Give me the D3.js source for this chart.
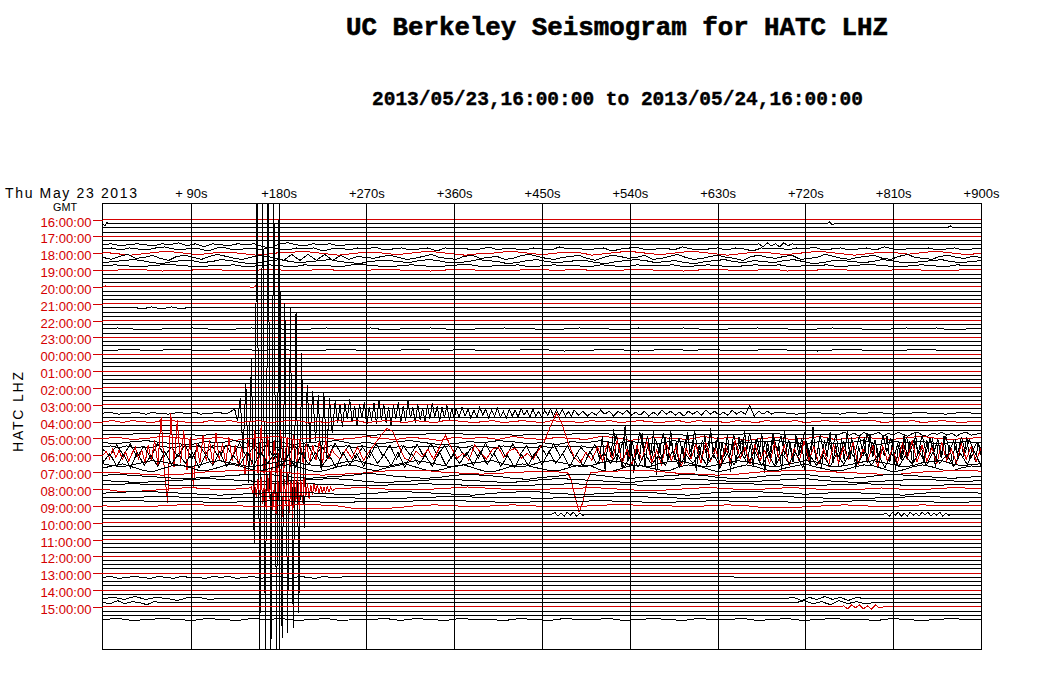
<!DOCTYPE html>
<html><head><meta charset="utf-8">
<script src="https://cdn.jsdelivr.net/npm/d3@7"></script>
<style>
body{margin:0;background:#fff;}
svg{display:block;}
text{font-family:"Liberation Sans",Arial,sans-serif;}
</style></head>
<body><svg id="c" width="1041" height="677"></svg>
<script>
// ---------- labels ----------
const titleText = "UC Berkeley Seismogram for HATC LHZ";
const subtitleText = "2013/05/23,16:00:00 to 2013/05/24,16:00:00";
const dateText = "Thu May 23 2013";
const zoneText = "GMT";
const stationText = "HATC  LHZ";
const hourLabels = ["16:00:00","17:00:00","18:00:00","19:00:00","20:00:00","21:00:00","22:00:00","23:00:00","00:00:00","01:00:00","02:00:00","03:00:00","04:00:00","05:00:00","06:00:00","07:00:00","08:00:00","09:00:00","10:00:00","11:00:00","12:00:00","13:00:00","14:00:00","15:00:00"];
const tickSeconds = [90,180,270,360,450,540,630,720,810,900];
const tickLabels = ["+ 90s","+180s","+270s","+360s","+450s","+540s","+630s","+720s","+810s","+900s"];
const traceCount = 96;

// ---------- trace data: segments [startSec, endSec, amplitudes (px, up +)] ----------
const tr001 = [[0,6,[0,-2,1,0]],[742,750,[0,2,-1,0]]];
const tr002 = [[865,872,[0,2,0]]];
const tr006 = [[0,250,[0,1,-1,0,1,0,-1,1,0,2,-1,1,-2,1,0,-1,1,0,1,-2,-3,1,2,0,-1,1,0,1,-1,0]],[668,715,[0,1,-2,2,-1,1,-2,2,-1,1,0,0]]];
const tr007 = [[0,900,[0,1,-1,1,0,-1,1,2,0,-1,1,0,-2,1,1,-1,0,1,-1,2,0,-1,1,0,1,-2,0,1,-1,1,0,2,-1,0,1,-1,0,1,-2,1,0,1,-1,0,2,-1,1,0,-1,1,0,-1,2,0,1,-1,0,1,-2,0,1,1,-1,0,1,-1,2,0,-1,0,1,-1,1,0,-2,1,0,1,-1,1,0,2,-1,0,1,-1,0,1,-1,2,0,-1,1,0,1,-1,0,1,-1,0,1]]];
const tr008 = [[0,900,[1,0,-1,-2,-1,0,1,2,1,0,-1,-1,0,1,1,0,-1,-2,-1,0,1,1,2,1,0,-1,-2,-1,0,1,1,0,-1,-1,0,1,2,1,0,-1,-2,-1,0,0,1,2,1,0,-1,-1,0,1,1,0,-2,-1,0,1,2,1,0,-1,-1,0,1,2,1,0,-1,-2,-1,0,1,1,0,-1,-1,0,1,2,1,0,-1,-2,-1,0,1,1,0,-1,0,1,2,1,0,-1,-1,0]]];
const tr009 = [[0,900,[0,-2,1,3,-1,0,2,-1,-3,1,2,0,-2,1,3,1,-1,-2,0,2,1,-1,-3,3,-3,3,-3,3,-3,2,-2,1,0,-1,1,2,0,-2,-1,1,3,0,-1,-2,1,2,-1,0,1,-2,-1,2,3,1,-1,-2,0,1,2,-1,-3,0,2,1,-1,0,2,-2,-1,1,3,0,-2,-1,1,2,0,-1,-3,1,2,0,-1,1,2,-2,-1,0,3,1,-1,-2,0,1,2,-1,-2,1,3,0,-1,-2,1,2,0,-1,1,0]]];
const tr010 = [[0,900,[-1,0,1,2,1,-1,-2,0,1,1,-1,0,2,1,-1,-2,-1,1,2,0,-1,0,1,2,0,-1,-2,0,1,1,0,-1,1,2,1,-1,-1,0,2,1,0,-2,-1,1,2,0,-1,0,1,1,-1,-2,0,1,2,1,-1,0,1,-1,-2,0,1,2,0,-1,1,0,-1,1,2,0,-2,-1,1,1,0,-1,0,2,1,-1,-1,0,1,2,0,-1,0,1]]];
const tr011 = [[0,900,[0,1,0,-1,0,1,1,0,-1,0,0,1,-1,0,1,0,-1,1,0,0,-1,1,1,0,-1,0,1,0,-1,0,1,1,-1,0,0,1,-1,0,1,0,0,-1,1,0,-1,1,0,0,1,-1,0,1,0,-1,0,1,0,1,-1,0,0,1,-1,0,1,1,0,-1,0,1,0,-1,1,0,0]]];
const tr012 = [[0,900,[0,0,1,0,-1,0,0,1,0,0,-1,1,0,0,0,1,-1,0,0,1,0,0,-1,0,1,0,0,-1,0,1,0,0,1,-1,0,0,1,0,0,-1,0,1,0,0,0,1,-1,0,0,1,0,-1,0,0,1,0,0,-1,1,0]]];
const tr016 = [[0,6,[0,1,0]],[150,160,[0,-1,1,0]]];
const tr021 = [[35,85,[0,-1,0,1,0,-1,0,1,0,-1,0]]];
const tr026 = [[0,900,[0,1,0,-1,0,0,1,0,-1,0,1,0,0,-1,0,1,0,0,1,-1,0,0,1,0,-1,0,0,1,0,0,-1,0,1,0,0,-1,1,0,0,1,0,-1,0,0,1,0,0,-1,0,1,0,0,-1,0,1,0,1,-1,0,0]]];
const tr031 = [[0,900,[0,0,1,-1,0,1,0,0,-1,1,0,0,1,-1,0,0,1,0,-1,0,0,1,0,-1,1,0,0,-1,0,1,0,-1,0,0,1,0,-1,0,1,0,0,1,-1,0,0,1,0,0,-1,0,1,0,-1,0,0,1,0,0,-1,0]]];
const tr046 = [
  [0,128,[0,1,0,-1,0,0,1,0,-1,1,0,0,-1,0,1,0,0,1,-1,0,0,1,0,0]],
  [135,235,[4,-8,15,-40,30,-70,55,-130,240,-240,240,-240,240,-240,240,-240,240,-225,110,-220,105,-215,100,-200,60,-115,28,-30,22,-28,18,-57,20,-45,15,-20]],
  [238,360,[12,-10,8,-14,10,-6,14,-9,7,-12,9,-5,11,-13,6,-8,10,-11,13,-7,9,-10,6,-12,8,-6,11,-9,7,-8,12,-5,6,-10,9,-7,5,-9,8,-6,10,-4,7,-8,6,-5,8,-7,5,-6]],
  [362,480,[5,-4,6,-3,4,-5,3,-4,6,-2,4,-5,3,-3,5,-4,2,-5,4,-3,3,-4,5,-2,3,-4,4,-3,2,-4,3,-2,4,-3,3,-2,4,-3,2,-3]],
  [483,690,[3,-2,2,-3,1,-2,3,-1,2,-3,2,-1,3,-2,1,-2,2,-3,1,-2,3,-1,2,-2,1,-3,2,-1,2,-2,3,-1,2,-2,1,-2,3,-1,2,-1,8,-3,2,-1,2,-1,1]],
  [693,900,[1,0,-1,0,1,0,0,-1,1,0,0,1,0,-1,0,0,1,0,0,-1,0,1,0,0]]
];
const tr048 = [[0,900,[0,1,-1,1,0,-1,1,1,0,-1,-1,1,0,1,-1,0,1,-1,0,1,1,-1,0,-1,1,0,1,-1,0,1,0,-1,1,0,-1,1,1,0,-1,0,1,-1,0,1,0,-1,1,0,0,-1,1,0,1,-1,0,1,0,-1,0,1,-1,1,0,0,-1,1,0,-1,1,0,0,1,-1,0,1,0,-1,0,1,1,-1,0,0,1,-1,0,1,0,-1,0,0]]];
const tr051 = [[0,750,[0,0,1,0,-1,0,0,1,0,0,0,-1,0,0,1,0,0,-1,0,0,1,0,0,0,-1,0,0,1,0,0,0]],[755,900,[0,2,-1,1,-2,2,-1,0,2,-2,1,-1,2,0,-2,1,2,-1,-2,1,0,2,-1,1,-2,1,2,-1,0,1]]];
const tr052 = [[0,900,[0,1,-1,0,2,1,-1,0,1,-2,0,1,2,-1,0,1,-1,0,2,0,-1,1,0,-2,1,0,1,-1,2,0,-1,1,0,-1,2,1,-2,0,1,0,-1,2,0,1,-2,0,1,-1,0,2,-1,0,1,0,-1,1,2,0,-1,0,1]]];
const tr053 = [[0,900,[0,-1,1,2,0,-1,-2,1,0,2,-1,0,1,-2,0,1,2,-1,0,-1,1,2,0,-2,-1,1,0,2,1,-1,0,-2,1,0,2,-1,1,0,-1,2,0,-1,1,-2,0,1,2,0,-1,1,-1,0,2,-2,1,0,1,-1,0,1,0]]];
const tr054 = [
  [0,515,[0,1,-1,1,-1,0,-1,1,0,-1,1,0,1,-1,1,0,1,0,-1,1,-1,1,-1,1,-1,0,0,1,-1,1,0,1,-1,1,-1,0,0,-1,1,-1,1,0,1,-1,1,0,-1,1,0,0,-1,1,0,-1,0,-1,1,-1,1,0,0,1,-1,0,0]],
  [518,900,[3,-8,12,-5,10,-14,6,-9,15,-4,11,-12,8,-6,14,-10,5,-13,9,-7,12,-5,16,-11,7,-8,13,-6,10,-15,4,-9,12,-7,8,-11,14,-5,9,-12,6,-10,13,-4,11,-8,7,-14,10,-6,15,-9,5,-11,12,-7,9,-5,13,-10,6,-12,8,-4,11,-9,14,-6,7,-10,12,-5,9,-8,6,-11,10,-4,8,-7,12,-6,9,-5,7,-9,11,-4,6,-8,10,-5,7,-3,5,-2]]
];
const tr055 = [
  [0,504,[2,-5,6,-4,7,-6,5,-7,8,-5,4,-6,7,-8,6,-3,5,-7,6,-5,8,-6,4,-5,7,-8,5,-6,6,-4,7,-7,5,-6,8,-5,6,-7,4,-6,7,-5,6,-8,5,-4,7,-6,8,-5,6,-7,5,-6,4,-7,8,-5,6,-6,7,-4,5,-8,6,-5,7,-6,5,-7,4,-5,6]],
  [506,900,[4,-8,15,-20,10,-6,22,-12,8,-18,25,-5,12,-22,6,-10,18,-15,9,-4,20,-24,7,-11,14,-9,21,-6,10,-17,5,-13,19,-8,12,-20,6,-9,16,-14,23,-7,11,-18,8,-5,17,-21,9,-12,14,-6,20,-10,7,-16,12,-4,18,-22,10,-8,15,-13,6,-19,21,-7,9,-11,16,-5,13,-20,8,-14,24,-9,6,-17,11,-6,19,-12,7,-15,13,-10,20,-8,9,-18,5,-7,14,-12,17,-6,10,-16,8,-5,15,-11,12,-19,6,-9,16,-7,10,-14,18,-8,6,-12,11,-5,13,-17,9,-7,15,-10,6,-13,12,-8,10,-6,14,-9,5,-11,8,-4]]
];
const tr056 = [
  [0,235,[0,4,-3,6,-2,5,-4,3,-6,2,8,-3,5,-8,10,-5,15,-10,38,-15,-48,42,-12,35,-8,25,-15,18,-32,12,-8,20,-6,15,-10,22,-5,12,-8,18,-6,10,-12,8,-20,15,-10,25,-18,30,-25,20,-30,15,-22,25,-15,18,-12,20,-10,15,-8,12,-6,10,-5,14,-8,16,-4,6]],
  [237,501,[2,-4,6,-3,8,-5,4,12,20,27,24,10,-3,-6,4,-2,6,-4,8,20,8,-3,2,-5,10,3,-4,6,8,-2,5,7,-3,2,-4,6,15,30,42,30,12,-2,-8,3,-5]],
  [507,900,[8,-6,12,-4,15,-8,6,-10,10,-5,14,-7,5,-9,12,-6,9,-12,7,-4,11,-8,13,-5,6,-10,9,-7,15,-3,8,-9,11,-6,5,-8,12,-4,10,-11,7,-6,14,-5,9,-8,6,-10,11,-7,8,-4,13,-9,6,-5,10,-12,9,-6,7,-8,12,-4,15,-7,10,-6,8,-9,13,-5,6,-8,11,-4,9,-6,7]]
];
const tr057 = [[0,900,[-3,6,-7,5,-8,7,-6,4,-7,8,-5,6,-4,7,-8,5,-6,8,-7,4,-5,7,-6,8,-4,6,-7,5,-8,6,-5,7,-6,4,-8,7,-5,6,-7,8,-4,5,-6,7,-8,6,-5,4,-7,8,-6,5,-4,7,-6,8,-5,6,-7,4,-8,5,-6,7,-5,8,-4,6,-7,5,-6,8,-5,7,-4,6,-8,5,-7,6,-5,4,-6,8,-7,5,-4,7,-6,5,-8,6,-5,7,-4,8,-6,5,-7,6,-4,7,-8,5,-6,4,-7,6,-5,8,-4,7,-6,5,-8,6,-7,4,-5,8,-6,7,-4,5,-7,6,-5,8,-6]]];
const tr058 = [[0,900,[0,-2,-3,-1,1,3,2,0,-2,-3,-1,2,3,1,-1,-3,-2,0,2,3,1,-1,-2,-3,0,2,3,1,-2,-3,-1,1,3,2,0,-2,-3,-1,1,2,3,0,-2,-3,-1,2,3,1,-1,-3,-2,1,3,2,-1,-2,-3,0,2,3,1,-2,-3,-1,1,3,2,0,-2,-3,-1,1,3,2,-1,-3,-2,0,2,3,1,-1,-3,-2,1,2,3,0,-2,-1,0]]];
const tr059 = [[0,900,[0,2,4,1,-2,-4,-1,2,3,0,-3,-2,1,4,2,-1,-3,-1,2,3,1,-2,-4,-2,1,3,2,-1,-3,0,2,4,1,-2,-3,-1,2,3,0,-3,-4,-1,2,4,1,-1,-3,-2,1,3,2,-2,-4,-1,2,3,0,-2,-3,1,3,2,-1,-4,-2,1,3,1,-2,-3,0,2,4,1,-1,-3,-2,1,3,2,-1,-4,-2,1,3,1,-2,-3,0,2,1]]];
const tr060 = [[0,470,[0,-1,-2,-3,-2,0,1,2,1,0,-2,-3,-2,-1,1,2,2,0,-1,-2,-1,0,1,0]],[476,500,[0,-8,-25,-40,-30,-10,0]],[505,900,[0,1,2,1,-1,-2,-3,-2,0,1,2,1,0,-1,-2,-2,0,1,2,1]]];
const tr061 = [[0,900,[1,2,1,0,-1,-2,-2,-1,0,1,2,2,1,-1,-2,-1,0,1,3,2,0,-1,-2,-1,1,2,1,0,-2,-3,-1,0,2,2,1,-1,-2,-1,0,1,2,1,-1,-2,-2,0,1,2,2,0,-1,-2,-1,1,2,1,0,-1,-2,-1,0]]];
const tr062 = [[0,900,[0,-1,-2,-1,0,1,2,1,0,-1,-1,0,1,2,1,-1,-2,-1,0,1,1,0,-1,-2,-1,1,2,1,0,-1,-2,0,1,2,1,0,-1,-1,0,1,2,0,-1,-2,-1,0,1,1,0,-1,0]]];
const tr063 = [[0,900,[0,1,0,-1,-1,0,1,1,0,-1,0,1,0,-1,-1,0,1,0,0,-1,0,1,1,0,-1,0,1,0,-1,0,0]]];
const tr064 = [
  [0,150,[0,-2,-3,-2,-1,0,1,1,0,-1,0,1]],
  [152,235,[2,-4,6,-8,10,-6,12,-15,8,-20,14,-10,18,-22,6,-25,12,-18,20,-28,10,-15,16,-24,8,-30,14,-12,18,-20,9,-14,12,-8,6,-10,4,-6,5,-3,4,-5,3,-4,2,-4,3,-3,2,-2]],
  [238,900,[0,1,1,0,-1,-1,0,1,2,1,0,-1,-1,0,0,1,1,0,-1,-2,-1,0,1,1,0,-1,0,1,1,0,-1,-1,0,1,0,-1,0,1,1,0]]
];
const tr065 = [[0,900,[0,1,2,1,0,-1,-2,-1,0,1,1,0,-1,-1,0,2,1,0,-1,-2,0,1,2,0,-1,-1,0,1,1,-1,-2,0,1,2,1,0,-1,0,1,0,-1,-2,0,1,1,0]]];
const tr066 = [[0,900,[0,0,1,0,-1,0,1,1,0,-1,-1,0,1,0,0,-1,0,1,1,0,-1,0,0,1,0,-1,-1,0,1,0,0]]];
const tr067 = [[0,900,[0,1,0,0,-1,0,1,0,-1,0,0,1,1,0,-1,0,0,1,0,-1,0,1,0,0,-1,0,1,0,0,-1,0]]];
const tr068 = [[0,900,[0,-1,-1,0,1,1,0,0,-1,0,1,1,0,-3,-3,-2,0,1,0,-1,0,1,0,-1,-1,0,1,1,0,0,-1,0,1,0,-2,-2,-1,0,1,0,-1,0,1,0,0,0]]];
const tr070 = [[460,495,[0,2,-2,1,-2,2,-1,2,-2,1,-1,0]],[800,870,[0,1,-2,2,-1,2,-2,1,-2,2,-1,1,-2,2,-1,2,-2,1,-1,2,-2,1,-1,0]]];
const tr085 = [[0,250,[0,1,-1,0,1,0,-1,1,0,-1,1,0,0,-1,1,0,1,-1,0,1,-1,0,1,0,-1,1,0,-1,1,0,0,1]]];
const tr090 = [[0,120,[0,1,-1,2,-1,1,0,-2,1,1,-1,0]],[700,780,[0,1,-2,1,-1,2,-1,1,-2,1,0]]];
const tr091 = [[0,60,[0,-1,2,-1,1,0,-2,1,0]],[710,790,[0,2,-1,1,-2,2,-1,1,-1,0]]];
const tr092 = [[755,800,[0,1,-2,2,-1,2,-2,1,-2,2,-1,0]]];
const tr095 = [[0,900,[0,1,-1,0,1,0,-1,1,0,-1,1,0,1,-1,0,1,-1,0,0,1,-1,1,0,-1,1,0,0,-1,1,0,-1,1,0,0,1,-1,0,1,0,-1,1,0,0,1,-1,0,1,-1,0,1,0,0,-1,1,0,-1,0,1,0,0]]];

const traceData = [[1,tr001],[2,tr002],[6,tr006],[7,tr007],[8,tr008],[9,tr009],[10,tr010],[11,tr011],[12,tr012],[16,tr016],[21,tr021],[26,tr026],[31,tr031],[46,tr046],[48,tr048],[51,tr051],[52,tr052],[53,tr053],[54,tr054],[55,tr055],[56,tr056],[57,tr057],[58,tr058],[59,tr059],[60,tr060],[61,tr061],[62,tr062],[63,tr063],[64,tr064],[65,tr065],[66,tr066],[67,tr067],[68,tr068],[70,tr070],[85,tr085],[90,tr090],[91,tr091],[92,tr092],[95,tr095]];

// ---------- drawing ----------
const RED = "#d40000";
const svg = d3.select("#c");
const plot = {left:103, right:981, top:203.5, bottom:649};
const x = d3.scaleLinear().domain([0,900]).range([plot.left, plot.right]);
const y = d3.scaleLinear().domain([0,95]).range([219.5, 619.5]);
const amp = d3.scaleLinear().domain([-1,1]).range([1,-1]);

// titles
svg.append("text").attr("x",617).attr("y",35).attr("text-anchor","middle")
  .style("font-family","'Liberation Mono','Courier New',monospace").style("font-weight","bold")
  .style("font-size","26px").attr("stroke","#000").attr("stroke-width",0.6)
  .attr("textLength",542).attr("lengthAdjust","spacingAndGlyphs").text(titleText);
svg.append("text").attr("x",617.5).attr("y",105).attr("text-anchor","middle")
  .style("font-family","'Liberation Mono','Courier New',monospace").style("font-weight","bold")
  .style("font-size","19.5px").attr("stroke","#000").attr("stroke-width",0.4)
  .attr("textLength",491).attr("lengthAdjust","spacingAndGlyphs").text(subtitleText);

svg.append("text").attr("x",5).attr("y",197.5).style("font-size","14px")
  .attr("textLength",132).attr("lengthAdjust","spacing").text(dateText);
svg.append("text").attr("x",65).attr("y",210.6).attr("text-anchor","middle").style("font-size","11px")
  .attr("textLength",24).attr("lengthAdjust","spacingAndGlyphs").text(zoneText);
svg.append("text").attr("transform","translate(23,412) rotate(-90)").attr("text-anchor","middle")
  .style("font-size","14px").attr("textLength",80).attr("lengthAdjust","spacing").text(stationText);

// clip
svg.append("clipPath").attr("id","clip").append("rect")
  .attr("x",plot.left).attr("y",plot.top).attr("width",plot.right-plot.left).attr("height",plot.bottom-plot.top);

const g = svg.append("g").attr("clip-path","url(#clip)");

// traces
const dataMap = new Map(traceData);
const line = d3.line().x(d=>x(d[0])).y(d=>y(d[2])+amp(d[1]));
for (let i=0;i<traceCount;i++){
  const segs = dataMap.get(i) || [];
  const pts = [[0,0,i]];
  segs.forEach(([s0,s1,vals])=>{
    const n = vals.length;
    vals.forEach((v,k)=>pts.push([n>1 ? s0+(s1-s0)*k/(n-1) : s0, v, i]));
  });
  pts.push([900,0,i]);
  g.append("path").attr("d",line(pts)).attr("fill","none")
    .attr("stroke", i%4===0 ? RED : "#000").attr("stroke-width",1)
    .attr("shape-rendering","crispEdges");
}

// vertical grid
svg.append("g").selectAll("line").data(tickSeconds.slice(0,-1)).join("line")
  .attr("x1",d=>Math.round(x(d))+0.5).attr("x2",d=>Math.round(x(d))+0.5)
  .attr("y1",plot.top).attr("y2",plot.bottom).attr("stroke","#000").attr("shape-rendering","crispEdges");

// box
svg.append("rect").attr("x",plot.left-0.5).attr("y",plot.top).attr("width",plot.right-plot.left+1)
  .attr("height",plot.bottom-plot.top).attr("fill","none").attr("stroke","#000").attr("shape-rendering","crispEdges");

// top tick labels
const topAxis = svg.append("g").attr("transform",`translate(0,${plot.top})`)
  .call(d3.axisTop(x).tickValues(tickSeconds).tickFormat((d,i)=>tickLabels[i]).tickSize(0).tickPadding(6));
topAxis.select(".domain").remove();
topAxis.selectAll("text").style("font-family","'Liberation Sans',Arial,sans-serif").style("font-size","13px").attr("fill","#000");

// hour labels
const leftAxis = svg.append("g").attr("transform",`translate(${plot.left-0.5},0)`)
  .call(d3.axisLeft(y).tickValues(d3.range(0,traceCount,4)).tickFormat((d,i)=>hourLabels[i]).tickSize(10).tickPadding(1));
leftAxis.select(".domain").remove();
leftAxis.selectAll("line").attr("stroke",RED).attr("shape-rendering","crispEdges");
leftAxis.selectAll("text").style("font-family","'Liberation Sans',Arial,sans-serif").style("font-size","13.5px")
  .attr("fill",RED).attr("dy","6.5px").attr("textLength",51).attr("lengthAdjust","spacingAndGlyphs");
</script>
</body></html>
